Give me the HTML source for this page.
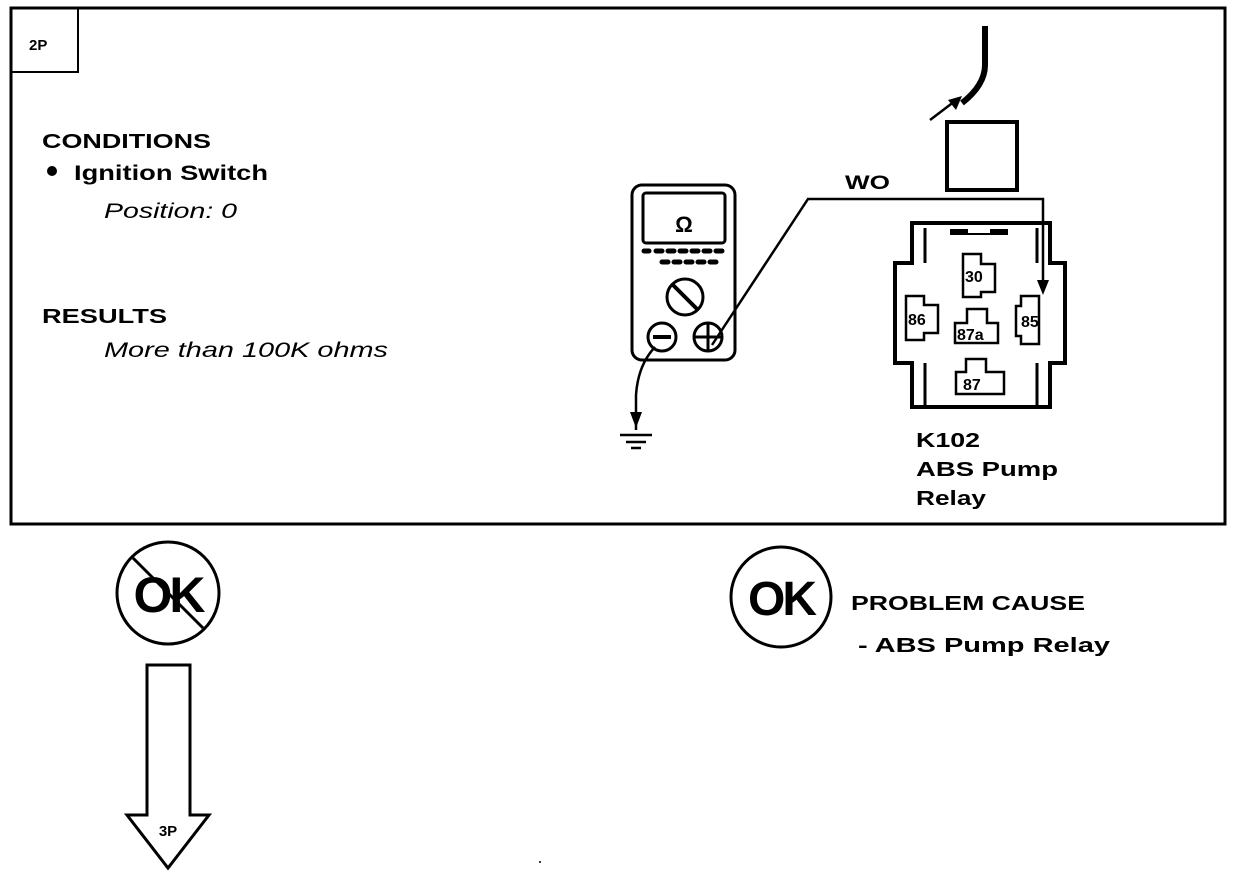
<!DOCTYPE html>
<html><head><meta charset="utf-8"><style>
html,body{margin:0;padding:0;background:#fff;}
svg{display:block;}
text{font-family:"Liberation Sans",Arial,sans-serif;fill:#000;}
.b{font-weight:bold;}
</style></head><body>
<svg width="1248" height="876" viewBox="0 0 1248 876" xmlns="http://www.w3.org/2000/svg">
<rect x="11" y="8" width="1214" height="516" fill="none" stroke="#000" stroke-width="3"/>
<path d="M11 72 H78 V8" fill="none" stroke="#000" stroke-width="2"/>
<text x="29" y="50" class="b" font-size="15">2P</text>
<text x="42" y="148" class="b" font-size="20" textLength="169" lengthAdjust="spacingAndGlyphs">CONDITIONS</text>
<circle cx="52" cy="171" r="5"/>
<text x="74" y="180" class="b" font-size="21" textLength="194" lengthAdjust="spacingAndGlyphs">Ignition Switch</text>
<text x="104" y="218" font-style="italic" font-size="21" textLength="133" lengthAdjust="spacingAndGlyphs">Position: 0</text>
<text x="42" y="323" class="b" font-size="20" textLength="125" lengthAdjust="spacingAndGlyphs">RESULTS</text>
<text x="104" y="357" font-style="italic" font-size="21" textLength="284" lengthAdjust="spacingAndGlyphs">More than 100K ohms</text>

<!-- meter -->
<rect x="632" y="185" width="103" height="175" rx="10" fill="none" stroke="#000" stroke-width="3"/>
<rect x="643" y="193" width="82" height="50" rx="3" fill="none" stroke="#000" stroke-width="3"/>
<text x="684" y="232" text-anchor="middle" class="b" font-size="22">Ω</text>
<g stroke="#000" stroke-width="5" stroke-linecap="round">
<path d="M644 251h5M656 251h6M668 251h6M680 251h6M692 251h6M704 251h6M716 251h6"/>
<path d="M662 262h6M674 262h6M686 262h6M698 262h6M710 262h6"/>
</g>
<circle cx="685" cy="297" r="18" fill="none" stroke="#000" stroke-width="3"/>
<line x1="673" y1="285" x2="697" y2="309" stroke="#000" stroke-width="4"/>
<circle cx="662" cy="337" r="14" fill="none" stroke="#000" stroke-width="3"/>
<line x1="653" y1="337" x2="671" y2="337" stroke="#000" stroke-width="4"/>
<circle cx="708" cy="337" r="14" fill="none" stroke="#000" stroke-width="3"/>
<path d="M708 323v28M694 337h28" stroke="#000" stroke-width="3"/>
<path d="M712 345 L808 199 H1043 V288" fill="none" stroke="#000" stroke-width="2.5"/>
<path d="M1037 280 L1043 295 L1049 280Z"/>
<path d="M655 347 Q638 365 636 395 V430" fill="none" stroke="#000" stroke-width="2.5"/>
<path d="M630 412 L636 428 L642 412Z"/>
<path d="M620 435h32M626 442h20M631 448h10" stroke="#000" stroke-width="2.5"/>
<text x="845" y="189" class="b" font-size="19" textLength="45" lengthAdjust="spacingAndGlyphs">WO</text>

<!-- plug & cable -->
<rect x="947" y="122" width="70" height="68" fill="none" stroke="#000" stroke-width="4"/>
<path d="M985 26 V65 Q985 85 962 103" fill="none" stroke="#000" stroke-width="6"/>
<path d="M930 120 L955 101" stroke="#000" stroke-width="2.5"/>
<path d="M948 100 L962 96 L956 110Z"/>

<!-- relay -->
<path d="M912 407 V363 H895 V263 H912 V223 H1050 V263 H1065 V363 H1050 V407 Z" fill="none" stroke="#000" stroke-width="4"/>
<path d="M925 407 V363 M1037 407 V363 M925 263 V228 M1037 263 V228" stroke="#000" stroke-width="3"/>
<path d="M950 232 H968 M990 232 H1008" stroke="#000" stroke-width="6"/>
<path d="M968 234 H990" stroke="#000" stroke-width="2"/>
<path d="M963 254h18v10h14v28h-14v5h-18z" fill="none" stroke="#000" stroke-width="2.5"/>
<text x="965" y="282" class="b" font-size="16">30</text>
<path d="M906 296h18v9h14v28h-14v7h-18z" fill="none" stroke="#000" stroke-width="2.5"/>
<text x="908" y="325" class="b" font-size="16">86</text>
<path d="M1021 296h18v48h-18v-8h-5v-30h5z" fill="none" stroke="#000" stroke-width="2.5"/>
<text x="1021" y="327" class="b" font-size="16">85</text>
<path d="M967 309h20v14h11v20h-43v-20h12z" fill="none" stroke="#000" stroke-width="2.5"/>
<text x="957" y="340" class="b" font-size="16">87a</text>
<path d="M966 359h20v13h18v22h-48v-22h10z" fill="none" stroke="#000" stroke-width="2.5"/>
<text x="963" y="390" class="b" font-size="16">87</text>
<text x="916" y="447" class="b" font-size="20" textLength="64" lengthAdjust="spacingAndGlyphs">K102</text>
<text x="916" y="476" class="b" font-size="20" textLength="142" lengthAdjust="spacingAndGlyphs">ABS Pump</text>
<text x="916" y="505" class="b" font-size="20" textLength="70" lengthAdjust="spacingAndGlyphs">Relay</text>

<!-- bottom -->
<circle cx="168" cy="593" r="51" fill="none" stroke="#000" stroke-width="3"/>
<text x="168" y="612" text-anchor="middle" class="b" font-size="50" letter-spacing="-3">OK</text>
<line x1="133" y1="558" x2="203" y2="628" stroke="#000" stroke-width="3"/>
<path d="M147 665 H190 V815 H209 L168 868 L127 815 H147 Z" fill="none" stroke="#000" stroke-width="3"/>
<text x="168" y="836" text-anchor="middle" class="b" font-size="15">3P</text>

<circle cx="781" cy="597" r="50" fill="none" stroke="#000" stroke-width="3"/>
<text x="781" y="615" text-anchor="middle" class="b" font-size="48" letter-spacing="-3">OK</text>
<text x="851" y="610" class="b" font-size="20" textLength="234" lengthAdjust="spacingAndGlyphs">PROBLEM CAUSE</text>
<text x="858" y="652" class="b" font-size="20" textLength="252" lengthAdjust="spacingAndGlyphs">-  ABS Pump Relay</text>
<circle cx="540" cy="862" r="1"/>
</svg>
</body></html>
